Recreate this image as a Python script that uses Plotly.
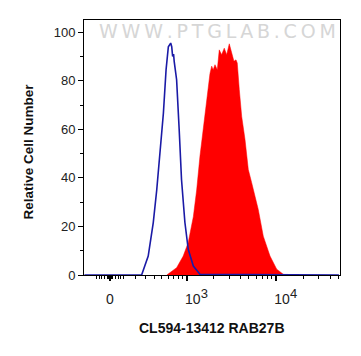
import numpy as np
import plotly.graph_objects as go

# ---- data (fluorescence intensity, relative cell number) ----
control_intensity = [-200, 258, 327, 386, 430, 474, 525, 567, 605, 646, 665, 682, 700, 712, 761, 816, 869, 952, 1040, 1190, 1416, 50000]
control_count = [0, 0, 7.8, 21.6, 35, 49, 66.7, 84.5, 94, 95.5, 94, 90, 91, 88, 80.4, 59.9, 39.3, 21.6, 10.6, 3.7, 0.3, 0]

sample_intensity = [578, 634, 761, 910, 1040, 1190, 1299, 1416, 1544, 1685, 1836, 1919, 1997, 2090, 2219, 2334,
                    2482, 2654, 2826, 3020, 3210, 3406, 3589, 3707, 3906, 4153, 4521, 4920, 5365, 5836, 6350,
                    7222, 8577, 10180, 12040, 13130]
sample_count = [0, 1, 3, 7.8, 13.4, 24, 35, 49, 61, 71, 83, 86, 84.5, 86.6, 84.5, 92.7,
                90.7, 93.4, 90.7, 95.2, 92, 88, 88.6, 87.3, 76.3, 65.3, 55.8, 43.4, 38, 32.5, 27,
                16, 7.8, 2.4, 0.3, 0]

x_tick_values = [0, 1000, 10000]
x_tick_labels = ["0",
                 "\u00a0\u00a0\u00a0\u00a0\u00a010<sup><span style='font-size:13px'>3</span></sup>",
                 "\u00a0\u00a0\u00a0\u00a0\u00a010<sup><span style='font-size:13px'>4</span></sup>"]
x_minor_values = [-100, -80, -60, -40, -20, -10, 10, 20, 40, 60, 80, 100,
                  200, 300, 400, 500, 600, 700, 800, 900,
                  2000, 3000, 4000, 5000, 6000, 7000, 8000, 9000,
                  20000, 30000, 40000, 50000]
x_range_values = [-204, 51400]
y_range = [0, 105]

# ---- biexponential-like display transform ----
C = 286.0
def T(v):
    return np.arcsinh(np.asarray(v, dtype=float) / C) / np.log(10)

fig = go.Figure()
fig.add_trace(go.Scatter(
    x=T(sample_intensity), y=sample_count, mode="lines",
    line=dict(color="#ff0000", width=0.5), fill="tozeroy", fillcolor="#ff0000",
    hoverinfo="skip", showlegend=False))
fig.add_trace(go.Scatter(
    x=T(control_intensity), y=control_count, mode="lines",
    line=dict(color="#1a1aa6", width=1.6),
    hoverinfo="skip", showlegend=False))

font_family = "Liberation Sans, Arial, sans-serif"
watermark = "\u2009".join("WWW.PTGLAB.COM")
fig.update_layout(
    width=353, height=348,
    margin=dict(l=76, r=21, t=12, b=81),
    paper_bgcolor="white", plot_bgcolor="white",
    font=dict(family=font_family, size=13, color="#222"),
    xaxis=dict(
        range=list(T(x_range_values)), showgrid=False, zeroline=False, automargin=False,
        showline=True, linecolor="black", linewidth=1, mirror=True,
        tickmode="array", tickvals=list(T(x_tick_values)), ticktext=x_tick_labels,
        ticks="outside", ticklen=5, tickcolor="black", tickwidth=2,
        ticklabelstandoff=6,
        tickfont=dict(size=14, color="#222"),
        minor=dict(tickmode="array", tickvals=list(T(x_minor_values)),
                   ticks="outside", ticklen=3, tickcolor="black", tickwidth=1),
    ),
    yaxis=dict(
        range=y_range, showgrid=False, zeroline=False, automargin=False,
        showline=True, linecolor="black", linewidth=1, mirror=True,
        tickmode="array", tickvals=[0, 20, 40, 60, 80, 100],
        ticks="outside", ticklen=5, tickcolor="black", tickwidth=1,
        tickfont=dict(size=13, color="#222"),
        minor=dict(tickmode="array", tickvals=[10, 30, 50, 70, 90],
                   ticks="outside", ticklen=3, tickcolor="black", tickwidth=1),
    ),
    annotations=[
        dict(text="<b>CL594-13412 RAB27B</b>", xref="paper", yref="paper",
             x=0.5, y=0, yshift=-53, xanchor="center", yanchor="middle",
             showarrow=False, font=dict(size=14, color="#111", family=font_family)),
        dict(text="<b>Relative Cell Number</b>", xref="paper", yref="paper",
             x=0, xshift=-56, y=0.5, yshift=-4, xanchor="center", yanchor="middle", textangle=-90,
             showarrow=False, font=dict(size=13.5, color="#111", family=font_family)),
        dict(text=watermark, xref="paper", yref="paper",
             x=0.5, xshift=5, y=1, yshift=-11, xanchor="center", yanchor="middle",
             showarrow=False, font=dict(size=19, color="#d6d6d6", family="DejaVu Sans, sans-serif")),
    ],
)

fig.write_html("out.html")
